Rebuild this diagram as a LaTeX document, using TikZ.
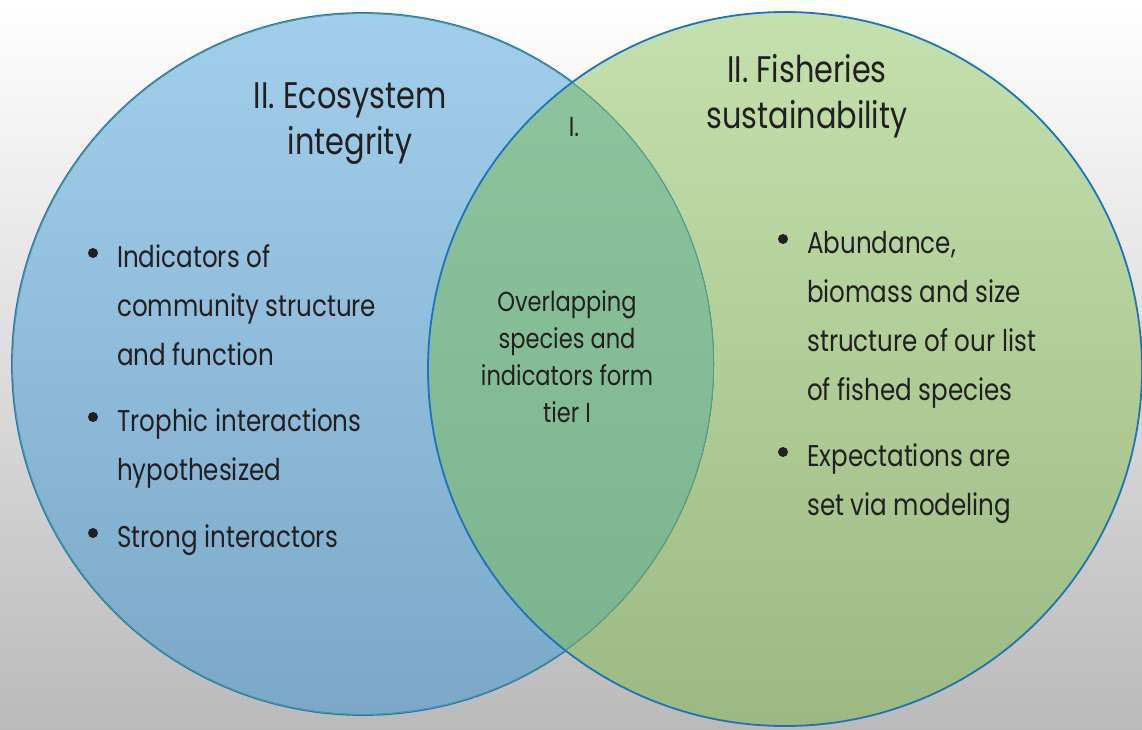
\documentclass[tikz,border=0pt]{standalone}
\usepackage{fontspec}
\setmainfont[FakeStretch=0.82]{Poppins}
\usepackage{tikz}
\usetikzlibrary{positioning}
\usetikzlibrary{calc}

\definecolor{bgtop}{HTML}{FFFFFF}
\definecolor{bgbot}{HTML}{BABABA}
\definecolor{ecotop}{HTML}{A1CFEB}
\definecolor{ecobot}{HTML}{7BA8C8}
\definecolor{fishtop}{HTML}{C4E0AC}
\definecolor{fishbot}{HTML}{9CB983}
\definecolor{laptop}{HTML}{8DC69D}
\definecolor{lapbot}{HTML}{7AB28D}
\definecolor{rim}{HTML}{1D74BA}
\definecolor{rimlap}{HTML}{4E9D91}
\definecolor{ink}{HTML}{231F20}

\tikzset{
  head/.style={font=\fontsize{37}{46}\selectfont, align=center, text=ink, anchor=base, inner sep=0pt},
  item/.style={font=\fontsize{30}{49}\selectfont, align=left, text=ink, anchor=base west, inner sep=0pt},
  middle/.style={font=\fontsize{27.5}{37}\selectfont, align=center, text=ink, anchor=base, inner sep=0pt},
  rimline/.style={line width=1.8pt},
}

\begin{document}
\begin{tikzpicture}[x=1pt, y=-1pt]

\useasboundingbox (0,0) rectangle (1142,730);
\fill[top color=bgtop, bottom color=bgbot] (0,0) rectangle (1142,730);

\coordinate (eco) at (363,364);
\coordinate (fish) at (785,369);

% the two sets
\fill[top color=ecotop, bottom color=ecobot] (eco) circle[radius=351];
\draw[rim, rimline] (eco) circle[radius=351];
\fill[top color=fishtop, bottom color=fishbot] (fish) circle[radius=357];
\begin{scope}
  \clip (eco) circle[radius=351];
  \fill[top color=laptop, bottom color=lapbot] (fish) circle[radius=357];
  \draw[rimlap, rimline] (eco) circle[radius=351];
\end{scope}
\draw[rim, rimline] (fish) circle[radius=357];

% headings (base = last line)
\node[head] (ecohead) at (350,155) {II. Ecosystem\\integrity};
\node[head] (fishhead) at (807,129) {II. Fisheries\\sustainability};
\node[middle] (tier) at (574,137) {I.};

% overlap text
\node[middle] (overlap) at (567,422) {Overlapping\\species and\\indicators form\\tier I};

% bullet items
\node[item] (ind) at (117,365) {Indicators of\\community structure\\and function};
\node[item] (tro) at (117,480) {Trophic interactions\\hypothesized};
\node[item] (str) at (117,547) {Strong interactors};
\node[item] (abu) at (807,400) {Abundance,\\biomass and size\\structure of our list\\of fished species};
\node[item] (exp) at (807,515) {Expectations are\\set via modeling};

\foreach \n/\k in {ind/2,tro/1,str/0,abu/3,exp/1}
  \fill[ink] ($(\n.base west)+(-24,-14-49*\k)$) circle[radius=5];

\end{tikzpicture}
\end{document}
